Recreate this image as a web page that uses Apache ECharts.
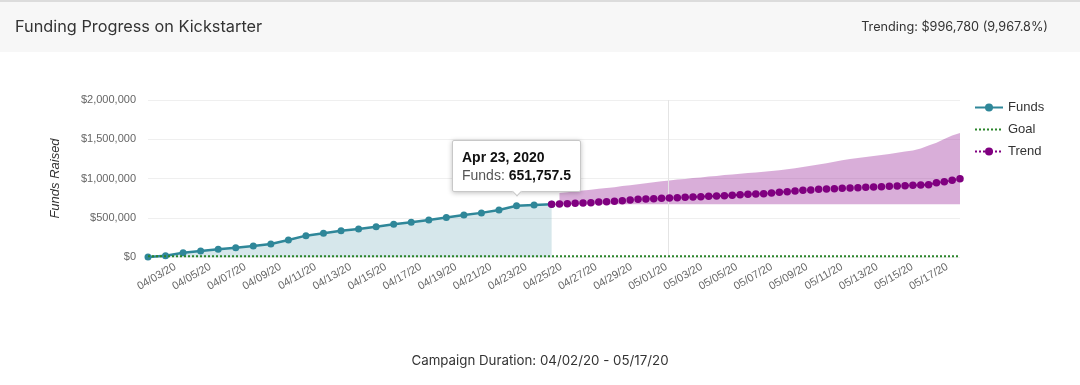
<!DOCTYPE html>
<html>
<head>
<meta charset="utf-8">
<script src="https://cdn.jsdelivr.net/npm/echarts@6/dist/echarts.min.js"></script>
<style>
html,body{margin:0;padding:0;background:#fff;}
#chart{width:1080px;height:385px;}
</style>
</head>
<body>
<div id="chart"></div>
<script>
// ---- data ----
const titleText = 'Funding Progress on Kickstarter';
const trendingText = 'Trending: $996,780 (9,967.8%)';
const footerText = 'Campaign Duration: 04/02/20 - 05/17/20';
const campaignStart = [2020, 3, 2]; // Apr 2, 2020 (day 0)

// x tick labels (every other day) and their day offsets from 04/02/20
const xTickLabels = ['04/03/20','04/05/20','04/07/20','04/09/20','04/11/20','04/13/20','04/15/20','04/17/20','04/19/20','04/21/20','04/23/20','04/25/20','04/27/20','04/29/20','05/01/20','05/03/20','05/05/20','05/07/20','05/09/20','05/11/20','05/13/20','05/15/20','05/17/20'];
const xTickDays = [1,3,5,7,9,11,13,15,17,19,21,23,25,27,29,31,33,35,37,39,41,43,45];

const yTicks = [0, 500000, 1000000, 1500000, 2000000];

// daily funds raised, from 04/02/20 (day 0) to 04/25/20 (day 23)
const fundsValues = [1500, 17000, 55000, 76000, 98000, 119000, 140000, 166000, 217000, 272000, 302000, 335000, 357000, 386000, 416000, 442000, 471000, 503000, 535000, 562000, 598000, 651757.5, 662000, 672000];

const goalValue = 10000;

// trend projection samples, evenly spaced from day 23 to the campaign end
const trendStartDay = 23;
const trendEndDay = 46.27;
const trendValues = [672000, 675000, 679000, 684000, 688000, 692000, 701000, 704000, 710000, 717000, 726000, 735000, 739000, 743000, 748000, 752000, 755000, 761000, 764000, 768000, 773000, 777000, 781000, 786000, 794000, 799000, 803000, 806000, 815000, 824000, 832000, 841000, 850000, 854000, 862000, 866000, 870000, 875000, 879000, 883000, 888000, 892000, 896000, 901000, 904000, 908000, 913000, 917000, 921000, 947000, 959000, 977000, 996780];

// trend range band (from the 2nd trend sample onwards)
const bandUpper = [815000, 825000, 836000, 847000, 857000, 868000, 879000, 890000, 903000, 915000, 927000, 939000, 952000, 964000, 976000, 986000, 995000, 1005000, 1014000, 1024000, 1033000, 1043000, 1052000, 1061000, 1070000, 1076000, 1085000, 1096000, 1104000, 1117000, 1131000, 1147000, 1162000, 1177000, 1195000, 1213000, 1232000, 1250000, 1262000, 1274000, 1287000, 1299000, 1313000, 1329000, 1343000, 1358000, 1383000, 1420000, 1456000, 1503000, 1549000, 1580000];
const bandLower = [672000, 672000, 672000, 672000, 672000, 672000, 672000, 672000, 672000, 672000, 672000, 672000, 672000, 672000, 672000, 672000, 672000, 672000, 672000, 672000, 672000, 672000, 672000, 672000, 672000, 672000, 672000, 672000, 672000, 672000, 672000, 672000, 672000, 672000, 672000, 672000, 672000, 672000, 672000, 672000, 672000, 672000, 672000, 672000, 672000, 672000, 672000, 672000, 672000, 672000, 672000, 672000];

const markerDay = 29.63;      // faint vertical marker line
const tooltipIndex = 21;      // Apr 23, 2020

// ---- build ----
const trendStep = (trendEndDay - trendStartDay) / (trendValues.length - 1);
const trendData = trendValues.map((v, i) => [trendStartDay + i * trendStep, v]);
const fundsData = fundsValues.map((v, i) => [i, v]);
const bandData = bandUpper.map((v, i) => [trendStartDay + (i + 1) * trendStep, v, bandLower[i]]);
const labelShift = 0.55;
const labelPositions = xTickDays.map(d => d + labelShift);

const FONT = '"Liberation Sans", Arial, sans-serif';
const HFONT = 'Inter, "Noto Sans", sans-serif';

function fmtMoney(v) { return '$' + Math.round(v).toLocaleString('en-US'); }
const months = ['Jan','Feb','Mar','Apr','May','Jun','Jul','Aug','Sep','Oct','Nov','Dec'];
function dayToLong(day) {
  const d = new Date(campaignStart[0], campaignStart[1], campaignStart[2] + day);
  return months[d.getMonth()] + ' ' + d.getDate() + ', ' + d.getFullYear();
}

const chart = echarts.init(document.getElementById('chart'), null, {renderer: 'canvas'});

const option = {
  animation: false,
  backgroundColor: '#fff',
  graphic: [
    {type: 'rect', shape: {x: 0, y: 0, width: 1080, height: 52}, style: {fill: '#f7f7f7'}, z: -10, silent: true},
    {type: 'rect', shape: {x: 0, y: 0, width: 1080, height: 2}, style: {fill: '#dcdcdc'}, z: -9, silent: true}
  ],
  title: [
    {text: titleText, left: 15, top: 19, padding: 0, textStyle: {fontFamily: HFONT, fontSize: 16.3, fontWeight: 'normal', color: '#333'}},
    {text: trendingText, right: 32, top: 21, padding: 0, textStyle: {fontFamily: HFONT, fontSize: 12.7, fontWeight: 'normal', color: '#333'}},
    {text: footerText, left: 'center', top: 354, padding: 0, textStyle: {fontFamily: HFONT, fontSize: 13.3, fontWeight: 'normal', color: '#333'}}
  ],
  legend: {
    orient: 'vertical',
    left: 974,
    top: 101,
    padding: 0,
    itemWidth: 28,
    itemHeight: 10,
    itemGap: 9,
    data: ['Funds', {name: 'Goal', itemStyle: {opacity: 0}}, 'Trend'],
    textStyle: {fontFamily: FONT, fontSize: 13, color: '#333'}
  },
  tooltip: {
    trigger: 'item',
    triggerOn: 'none',
    alwaysShowContent: true,
    position: 'top',
    confine: false,
    transitionDuration: 0,
    backgroundColor: '#fff',
    borderColor: '#c8c8c8',
    borderWidth: 1,
    padding: [7, 9],
    extraCssText: 'box-shadow: 0 1px 5px rgba(0,0,0,0.25); border-radius: 2px;',
    textStyle: {fontFamily: FONT, fontSize: 14, color: '#555'},
    formatter: function (p) {
      const day = p.data[0];
      const val = p.data[1].toLocaleString('en-US', {maximumFractionDigits: 1});
      return '<div style="font-family:' + FONT.replace(/"/g, "'") + ';font-size:14px;line-height:18px;">' +
        '<b style="color:#111">' + dayToLong(day) + '</b><br/>' +
        '<span style="color:#555">Funds: </span><b style="color:#111">' + val + '</b></div>';
    }
  },
  grid: {left: 148, right: 120, top: 100, bottom: 128, containLabel: false, outerBoundsMode: 'none'},
  xAxis: {
    type: 'value',
    min: 0,
    max: trendEndDay,
    interval: 1,
    axisLine: {show: false},
    axisTick: {show: false},
    splitLine: {show: false},
    axisLabel: {
      customValues: labelPositions,
      rotate: 30,
      margin: 9,
      fontFamily: FONT,
      fontSize: 11,
      color: '#666',
      formatter: function (v) {
        for (let i = 0; i < labelPositions.length; i++) {
          if (Math.abs(labelPositions[i] - v) < 0.01) return xTickLabels[i];
        }
        return '';
      }
    }
  },
  yAxis: {
    type: 'value',
    min: yTicks[0],
    max: yTicks[yTicks.length - 1],
    interval: yTicks[1] - yTicks[0],
    name: 'Funds Raised',
    nameLocation: 'middle',
    nameGap: 86,
    nameRotate: 90,
    nameTextStyle: {fontFamily: FONT, fontSize: 13, fontStyle: 'italic', color: '#333'},
    axisLine: {show: false},
    axisTick: {show: false},
    splitLine: {lineStyle: {color: '#efefef', width: 1}},
    axisLabel: {margin: 12, fontFamily: FONT, fontSize: 11, color: '#666', formatter: fmtMoney}
  },
  series: [
    {
      name: 'Funds',
      type: 'line',
      data: fundsData,
      z: 4,
      symbol: 'circle',
      symbolSize: 7,
      itemStyle: {color: '#2f8799'},
      lineStyle: {color: '#2f8799', width: 2.5},
      areaStyle: {color: 'rgba(47,135,153,0.28)'},
      emphasis: {disabled: true}
    },
    {
      name: 'Goal',
      type: 'line',
      data: [[0, goalValue], [trendEndDay, goalValue]],
      z: 5,
      symbol: 'none',
      itemStyle: {color: '#2a842a'},
      lineStyle: {color: '#2a842a', width: 2, type: 'dotted'},
      tooltip: {show: false},
      markLine: {
        silent: true,
        symbol: 'none',
        label: {show: false},
        lineStyle: {color: '#e4e4e4', width: 1, type: 'solid'},
        data: [{xAxis: markerDay}]
      }
    },
    {
      name: 'TrendBand',
      type: 'custom',
      z: 2,
      silent: true,
      tooltip: {show: false},
      data: bandData,
      encode: {x: 0, y: [1, 2]},
      renderItem: function (params, api) {
        if (params.dataIndex !== 0) return null;
        const pts = [];
        for (let i = 0; i < bandData.length; i++) pts.push(api.coord([bandData[i][0], bandData[i][1]]));
        for (let i = bandData.length - 1; i >= 0; i--) pts.push(api.coord([bandData[i][0], bandData[i][2]]));
        return {type: 'polygon', shape: {points: pts}, style: {fill: 'rgba(150,30,150,0.36)'}};
      }
    },
    {
      name: 'Trend',
      type: 'line',
      data: trendData,
      z: 6,
      symbol: 'circle',
      symbolSize: 7.5,
      itemStyle: {color: '#800080'},
      lineStyle: {color: '#800080', width: 2, type: 'dotted'},
      tooltip: {show: false},
      emphasis: {disabled: true}
    }
  ]
};

chart.setOption(option);
chart.dispatchAction({type: 'showTip', seriesIndex: 0, dataIndex: tooltipIndex});
</script>
</body>
</html>
